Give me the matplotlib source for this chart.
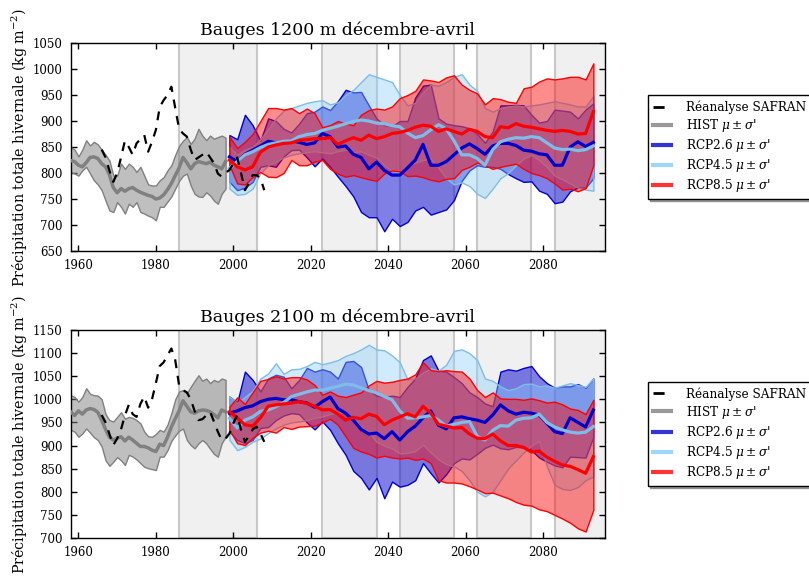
import matplotlib
matplotlib.use('Agg')
import matplotlib.pyplot as plt
from matplotlib.lines import Line2D
import numpy as np

plt.rcParams['font.family'] = 'DejaVu Serif'
plt.rcParams['mathtext.fontset'] = 'dejavuserif'

# --- années ---
years_safran = np.arange(1966, 2009)
years_hist = np.arange(1958, 1999)
years_rcp = np.arange(1999, 2094, 2)

# périodes grisées
periods = [(1986, 2006), (2023, 2037), (2043, 2057), (2063, 2077), (2083, 2097)]

# ================= 1200 m =================
safran_1200 = [845, 830, 805, 783, 800, 830, 862, 850, 835, 857,
               865, 873, 841, 860, 883, 927, 940, 950, 966, 925,
               885, 876, 870, 845, 825, 830, 835, 841, 830, 819,
               799, 793, 800, 806, 818, 830, 800, 767, 780, 796,
               796, 790, 767]

hist_mean_1200 = [824, 822, 815, 812, 820, 830, 831, 828, 818, 812,
                  797, 772, 762, 770, 765, 770, 772, 767, 763, 760,
                  757, 755, 750, 752, 758, 768, 780, 795, 810, 830,
                  820, 808, 818, 822, 820, 818, 821, 815, 812, 808, 822]
hist_up_1200 = [850, 845, 832, 845, 863, 853, 860, 855, 845, 835,
                824, 795, 795, 818, 808, 818, 812, 802, 812, 795,
                778, 776, 776, 786, 792, 805, 815, 835, 852, 862,
                869, 856, 866, 885, 872, 863, 872, 866, 869, 872, 868]
hist_lo_1200 = [802, 799, 795, 805, 812, 799, 786, 778, 767, 747,
                728, 725, 744, 735, 722, 741, 735, 744, 725, 722,
                718, 715, 709, 735, 735, 745, 755, 770, 785, 795,
                799, 776, 760, 755, 754, 763, 757, 747, 741, 760, 770]

rcp26_mean_1200 = [831, 822, 836, 844, 852, 861, 858, 858, 862, 859,
                   855, 858, 876, 870, 850, 852, 836, 830, 808, 821,
                   805, 796, 796, 810, 825, 855, 815, 815, 822, 835,
                   848, 856, 847, 836, 852, 857, 857, 853, 844, 842,
                   837, 835, 815, 815, 850, 860, 851, 859]
rcp26_up_1200 = [873, 865, 912, 892, 862, 905, 900, 885, 878, 895,
                 915, 918, 928, 921, 938, 960, 955, 956, 930, 905,
                 892, 890, 900, 900, 945, 968, 970, 905, 895, 892,
                 890, 886, 875, 858, 880, 930, 930, 931, 930, 912,
                 897, 900, 922, 920, 918, 905, 922, 934]
rcp26_lo_1200 = [783, 767, 772, 783, 812, 815, 812, 832, 844, 845,
                 830, 813, 828, 812, 793, 775, 755, 725, 715, 715,
                 688, 712, 698, 706, 728, 735, 720, 725, 730, 748,
                 785, 805, 815, 812, 812, 808, 798, 790, 783, 784,
                 766, 760, 742, 745, 765, 772, 772, 790]

rcp45_mean_1200 = [809, 822, 835, 841, 849, 855, 858, 861, 862, 870,
                   874, 876, 882, 886, 890, 895, 899, 902, 900, 896,
                   895, 891, 889, 877, 868, 872, 883, 893, 885, 862,
                   835, 835, 828, 815, 845, 860, 865, 868, 867, 870,
                   868, 858, 848, 845, 846, 843, 845, 852]
rcp45_up_1200 = [850, 835, 845, 850, 865, 885, 905, 920, 925, 930,
                 935, 938, 940, 932, 936, 950, 960, 975, 990, 985,
                 980, 975, 950, 930, 935, 955, 970, 968, 975, 985,
                 990, 970, 958, 925, 918, 925, 928, 930, 928, 930,
                 932, 935, 938, 935, 932, 928, 928, 948]
rcp45_lo_1200 = [770, 758, 760, 770, 800, 815, 822, 830, 835, 838,
                 840, 842, 840, 838, 842, 845, 840, 842, 835, 830,
                 815, 805, 800, 815, 820, 825, 828, 810, 790, 778,
                 782, 775, 760, 752, 770, 790, 800, 815, 828, 835,
                 825, 812, 795, 788, 780, 772, 768, 766]

rcp85_mean_1200 = [825, 812, 806, 812, 840, 850, 854, 857, 858, 863,
                   864, 866, 866, 868, 855, 862, 868, 863, 873, 866,
                   870, 876, 878, 882, 888, 892, 890, 880, 885, 880,
                   875, 884, 880, 870, 868, 889, 887, 895, 890, 888,
                   885, 882, 880, 882, 880, 875, 876, 918]
rcp85_up_1200 = [870, 848, 860, 875, 900, 925, 925, 922, 925, 915,
                 924, 915, 888, 892, 900, 895, 892, 912, 921, 924,
                 922, 928, 944, 950, 958, 980, 978, 975, 984, 988,
                 970, 960, 953, 932, 944, 942, 937, 935, 963, 966,
                 976, 982, 980, 982, 985, 985, 980, 1011]
rcp85_lo_1200 = [815, 780, 778, 792, 802, 793, 792, 800, 825, 815,
                 815, 822, 825, 808, 799, 793, 796, 792, 788, 785,
                 799, 805, 803, 794, 795, 792, 787, 784, 789, 790,
                 806, 812, 820, 815, 808, 812, 815, 818, 808, 800,
                 796, 790, 780, 768, 770, 765, 771, 815]

# ================= 2100 m =================
safran_2100 = [966, 950, 925, 901, 915, 935, 965, 988, 968, 962,
               990, 1006, 982, 1000, 1035, 1072, 1080, 1095, 1110, 1085,
               1030, 1020, 1015, 1000, 975, 955, 957, 965, 973, 952,
               930, 912, 915, 926, 948, 966, 934, 908, 920, 935,
               941, 926, 908]

hist_mean_2100 = [973, 965, 975, 968, 977, 980, 978, 972, 955, 935,
                  918, 912, 916, 919, 910, 918, 912, 905, 898, 898,
                  895, 890, 887, 903, 900, 918, 940, 958, 975, 997,
                  985, 973, 970, 975, 977, 976, 973, 967, 960, 977, 973]
hist_up_2100 = [1009, 1005, 995, 1005, 1024, 1012, 1009, 1008, 1000, 968,
                955, 952, 962, 972, 958, 962, 960, 955, 948, 930,
                920, 919, 925, 934, 930, 945, 970, 1000, 1017, 1020,
                1013, 1027, 1040, 1052, 1040, 1045, 1035, 1042, 1038, 1045, 1042]
hist_lo_2100 = [934, 930, 919, 926, 937, 928, 918, 912, 898, 868,
                856, 865, 875, 868, 858, 880, 876, 870, 862, 854,
                851, 849, 847, 876, 876, 890, 910, 922, 932, 937,
                912, 901, 894, 905, 912, 905, 893, 882, 876, 905, 919]

rcp26_mean_2100 = [970, 975, 982, 986, 995, 1000, 1002, 999, 999, 995,
                   992, 983, 995, 1005, 980, 970, 955, 935, 925, 927,
                   915, 930, 912, 930, 942, 960, 975, 944, 936, 960,
                   962, 958, 955, 950, 966, 988, 975, 968, 972, 970,
                   966, 948, 930, 926, 960, 950, 940, 977]
rcp26_up_2100 = [1006, 993, 1060, 1042, 1017, 1045, 1053, 1049, 1024, 1042,
                 1068, 1060, 1065, 1060, 1045, 1081, 1083, 1070, 1020, 1008,
                 1005, 1008, 1005, 1027, 1045, 1085, 1095, 1062, 1060, 1048,
                 1035, 1015, 1005, 991, 985, 1060, 1065, 1062, 1068, 1072,
                 1050, 1035, 1025, 1028, 1028, 1033, 1025, 1045]
rcp26_lo_2100 = [930, 912, 905, 912, 938, 940, 955, 965, 970, 968,
                 950, 935, 952, 934, 905, 880, 845, 830, 805, 830,
                 786, 822, 811, 815, 825, 862, 840, 820, 838, 862,
                 872, 870, 882, 895, 902, 894, 892, 897, 896, 890,
                 874, 865, 857, 853, 876, 875, 874, 919]

rcp45_mean_2100 = [959, 938, 955, 962, 974, 977, 984, 993, 1006, 1011,
                   1016, 1020, 1020, 1024, 1028, 1033, 1031, 1025, 1019, 1014,
                   1006, 999, 975, 959, 960, 962, 965, 955, 942, 946,
                   950, 952, 920, 912, 933, 943, 942, 955, 959, 960,
                   968, 950, 940, 934, 929, 927, 929, 941]
rcp45_up_2100 = [1006, 992, 1005, 1018, 1045, 1056, 1078, 1055, 1065, 1066,
                 1072, 1081, 1076, 1080, 1085, 1094, 1100, 1108, 1118, 1108,
                 1106, 1095, 1080, 1043, 1045, 1058, 1067, 1062, 1075, 1105,
                 1108, 1100, 1085, 1045, 1040, 1028, 1020, 1024, 1033, 1034,
                 1028, 1030, 1025, 1030, 1035, 1031, 1027, 1045]
rcp45_lo_2100 = [912, 890, 897, 908, 915, 927, 937, 945, 950, 952,
                 955, 960, 963, 968, 972, 970, 960, 940, 928, 908,
                 900, 894, 883, 884, 888, 902, 885, 870, 860, 855,
                 845, 825, 800, 790, 800, 825, 850, 868, 885, 900,
                 910, 855, 815, 806, 804, 810, 825, 833]

rcp85_mean_2100 = [973, 960, 945, 942, 960, 985, 988, 990, 992, 995,
                   991, 985, 977, 978, 968, 955, 961, 958, 968, 963,
                   945, 955, 962, 969, 962, 985, 970, 946, 942, 938,
                   939, 925, 916, 915, 925, 910, 900, 900, 896, 886,
                   888, 875, 866, 858, 855, 848, 840, 876]
rcp85_up_2100 = [984, 1004, 990, 1015, 1040, 1044, 1050, 1045, 1048, 1048,
                 1043, 1031, 1010, 1017, 1008, 1005, 1010, 1015, 1030, 1040,
                 1036, 1038, 1042, 1045, 1054, 1080, 1063, 1061, 1063, 1061,
                 1060, 1045, 1020, 1005, 1015, 1002, 1001, 1001, 999, 1002,
                 998, 993, 995, 989, 980, 977, 968, 999]
rcp85_lo_2100 = [934, 905, 901, 917, 928, 932, 928, 940, 936, 941,
                 942, 943, 950, 958, 945, 920, 895, 887, 882, 874,
                 878, 874, 872, 874, 869, 872, 862, 825, 820, 820,
                 818, 812, 805, 797, 798, 792, 786, 778, 772, 770,
                 762, 758, 750, 742, 733, 721, 714, 761]

# couleurs
c_hist = '#808080'
c26 = '#0000cd'
c45_fill = '#87cefa'
c45_line = '#7ebde8'
c85 = '#ff0000'


def draw_panel(ax, title, ylim, safran, hist, rcps):
    for a, b in periods:
        ax.axvspan(a, b, facecolor='#f0f0f0', edgecolor='#c8c8c8', lw=1.5, zorder=0)

    h_mean, h_up, h_lo = hist
    ax.fill_between(years_hist, h_lo, h_up, facecolor=(0.5, 0.5, 0.5, 0.5),
                    edgecolor=c_hist, lw=1, zorder=2)
    ax.plot(years_hist, h_mean, color=c_hist, lw=2.5, zorder=3)

    # enveloppes puis moyennes
    for (mean, up, lo), fc, ec, al in rcps:
        ax.fill_between(years_rcp, lo, up, facecolor=matplotlib.colors.to_rgba(fc, al),
                        edgecolor=ec, lw=1, zorder=2)
    for (mean, up, lo), fc, ec, al in rcps:
        ax.plot(years_rcp, mean, color=ec, lw=2.3, zorder=4)

    ax.plot(years_safran, safran, color='black', lw=1.6,
            linestyle=(0, (4, 3.5)), zorder=6)

    ax.set_xlim(1958, 2096)
    ax.set_ylim(*ylim)
    ax.set_yticks(np.arange(ylim[0], ylim[1] + 1, 50))
    ax.set_xticks(np.arange(1960, 2081, 20))
    ax.tick_params(direction='in', top=True, right=True, length=4.5, width=1,
                   labelsize=8.5, pad=6)
    for s in ax.spines.values():
        s.set_linewidth(1)
    ax.set_title(title, fontsize=12.5, pad=6)
    ax.set_ylabel('Précipitation totale hivernale (kg m$^{-2}$)', fontsize=10.3, labelpad=2)

    handles = [
        Line2D([], [], color='black', lw=2, linestyle=(0, (4, 3.5))),
        Line2D([], [], color=c_hist, lw=3, alpha=0.8),
        Line2D([], [], color=c26, lw=3, alpha=0.8),
        Line2D([], [], color=c45_fill, lw=3, alpha=0.8),
        Line2D([], [], color=c85, lw=3, alpha=0.8),
    ]
    labels = ['Réanalyse SAFRAN',
              r"HIST $\mu\pm\sigma$'",
              r"RCP2.6 $\mu\pm\sigma$'",
              r"RCP4.5 $\mu\pm\sigma$'",
              r"RCP8.5 $\mu\pm\sigma$'"]
    leg = ax.legend(handles, labels, loc='center left', bbox_to_anchor=(1.08, 0.5),
                    borderaxespad=0, fontsize=8.7, handlelength=1.5, handletextpad=1.3,
                    labelspacing=0.25, fancybox=False, shadow=True, framealpha=1,
                    edgecolor='black')
    leg.get_frame().set_linewidth(1)


fig = plt.figure(figsize=(8.09, 5.76), dpi=100)
ax1 = fig.add_axes([0.0874, 0.5642, 0.6604, 0.3611])
ax2 = fig.add_axes([0.0874, 0.066, 0.6604, 0.3611])

draw_panel(ax1, 'Bauges 1200 m décembre-avril', (650, 1050), safran_1200,
           (hist_mean_1200, hist_up_1200, hist_lo_1200),
           [((rcp26_mean_1200, rcp26_up_1200, rcp26_lo_1200), c26, c26, 0.5),
            ((rcp45_mean_1200, rcp45_up_1200, rcp45_lo_1200), c45_fill, c45_line, 0.4),
            ((rcp85_mean_1200, rcp85_up_1200, rcp85_lo_1200), c85, c85, 0.45)])

draw_panel(ax2, 'Bauges 2100 m décembre-avril', (700, 1150), safran_2100,
           (hist_mean_2100, hist_up_2100, hist_lo_2100),
           [((rcp26_mean_2100, rcp26_up_2100, rcp26_lo_2100), c26, c26, 0.5),
            ((rcp45_mean_2100, rcp45_up_2100, rcp45_lo_2100), c45_fill, c45_line, 0.4),
            ((rcp85_mean_2100, rcp85_up_2100, rcp85_lo_2100), c85, c85, 0.45)])

fig.savefig('out.png', dpi=100)
plt.close(fig)
